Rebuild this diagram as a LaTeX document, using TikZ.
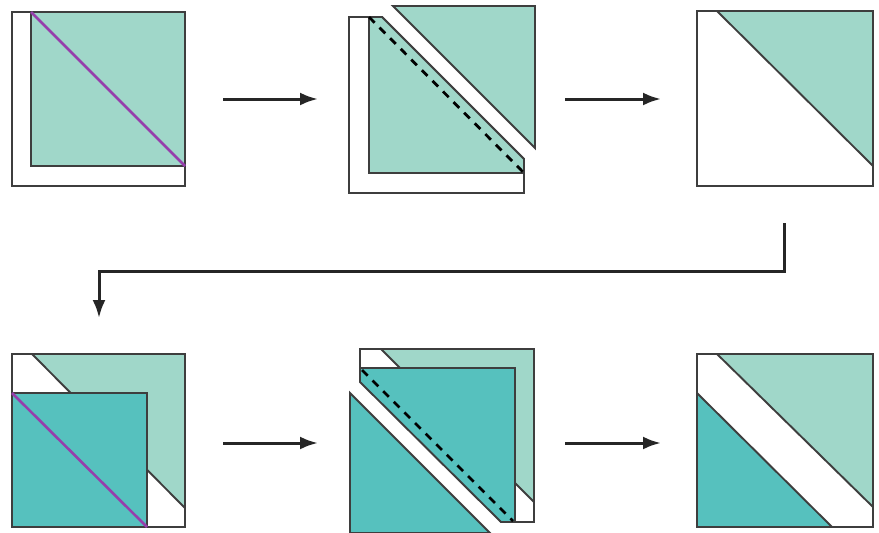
\documentclass[tikz,border=0pt]{standalone}
\usepackage{tikz}
\usetikzlibrary{arrows.meta}

\definecolor{lightteal}{RGB}{160,215,201}
\definecolor{darkteal}{RGB}{86,193,190}
\definecolor{seampurple}{RGB}{150,62,172}
\definecolor{edgegray}{RGB}{62,62,62}

\begin{document}
\begin{tikzpicture}[x = 1pt, y = -1pt,
  backing/.style = {draw = edgegray, line width = 1.9pt, fill = white},
  light/.style = {draw = edgegray, line width = 1.9pt, fill = lightteal},
  dark/.style = {draw = edgegray, line width = 1.9pt, fill = darkteal},
  cutline/.style = {draw = seampurple, line width = 2.6pt},
  stitch/.style = {draw = black, line width = 2.8pt, dash pattern = on 8pt off 7pt},
  flow/.style = {draw = black!85, line width = 3pt, -{Latex[length = 18pt, width = 13pt]}}]
\useasboundingbox (0,0) rectangle (879,533);

% top row, square on its backing
\draw [backing] (12,12) rectangle (185,186);
\draw [light] (31,12) rectangle (185,166);
\draw [cutline] (31,12) -- (185,166);

% cut apart along the line
\draw [backing] (349,17) -- (382,17) -- (524,159) -- (524,193) -- (349,193) -- cycle;
\draw [light] (369,17) -- (382,17) -- (524,159) -- (524,173) -- (369,173) -- cycle;
\draw [stitch] (369,17) -- (524,173);
\draw [light] (393,6) -- (535,6) -- (535,148) -- cycle;

% pressed open
\draw [backing] (697,11) rectangle (873,186);
\draw [light] (717,11) -- (873,11) -- (873,166) -- cycle;

% bottom row, second square laid on top
\draw [backing] (12,354) rectangle (185,527);
\draw [light] (32,354) -- (185,354) -- (185,508) -- cycle;
\draw [dark] (12,393) rectangle (147,527);
\draw [cutline] (12,393) -- (147,527);

% cut apart again
\draw [backing] (360,349) rectangle (534,522);
\draw [light] (381,349) -- (534,349) -- (534,502) -- cycle;
\fill [white] (350,372) -- (511,533) -- (350,533) -- cycle;
\draw [dark] (360,368) -- (515,368) -- (515,522) -- (501,522) -- (360,382) -- cycle;
\draw [stitch] (362,370) -- (513,521);
\draw [dark] (350,393) -- (490,533) -- (350,533) -- cycle;

% finished block
\draw [backing] (697,354) rectangle (873,527);
\draw [light] (717,354) -- (873,354) -- (873,507) -- cycle;
\draw [dark] (697,393) -- (832,527) -- (697,527) -- cycle;
\draw [edgegray, line width = 1.9pt] (697,354) rectangle (873,527);

% arrows
\coordinate (a1s) at (223,99);  \coordinate (a1e) at (318,99);
\coordinate (a2s) at (565,99);  \coordinate (a2e) at (661,99);
\coordinate (a3s) at (223,443); \coordinate (a3e) at (318,443);
\coordinate (a4s) at (565,443); \coordinate (a4e) at (661,443);
\coordinate (turn) at (784,223); \coordinate (bend) at (99,271);
\coordinate (down) at (99,318);
\draw [flow] (a1s) -- (a1e);
\draw [flow] (a2s) -- (a2e);
\draw [flow] (a3s) -- (a3e);
\draw [flow] (a4s) -- (a4e);
\draw [flow] (turn) |- (bend) -- (down);
\end{tikzpicture}
\end{document}
